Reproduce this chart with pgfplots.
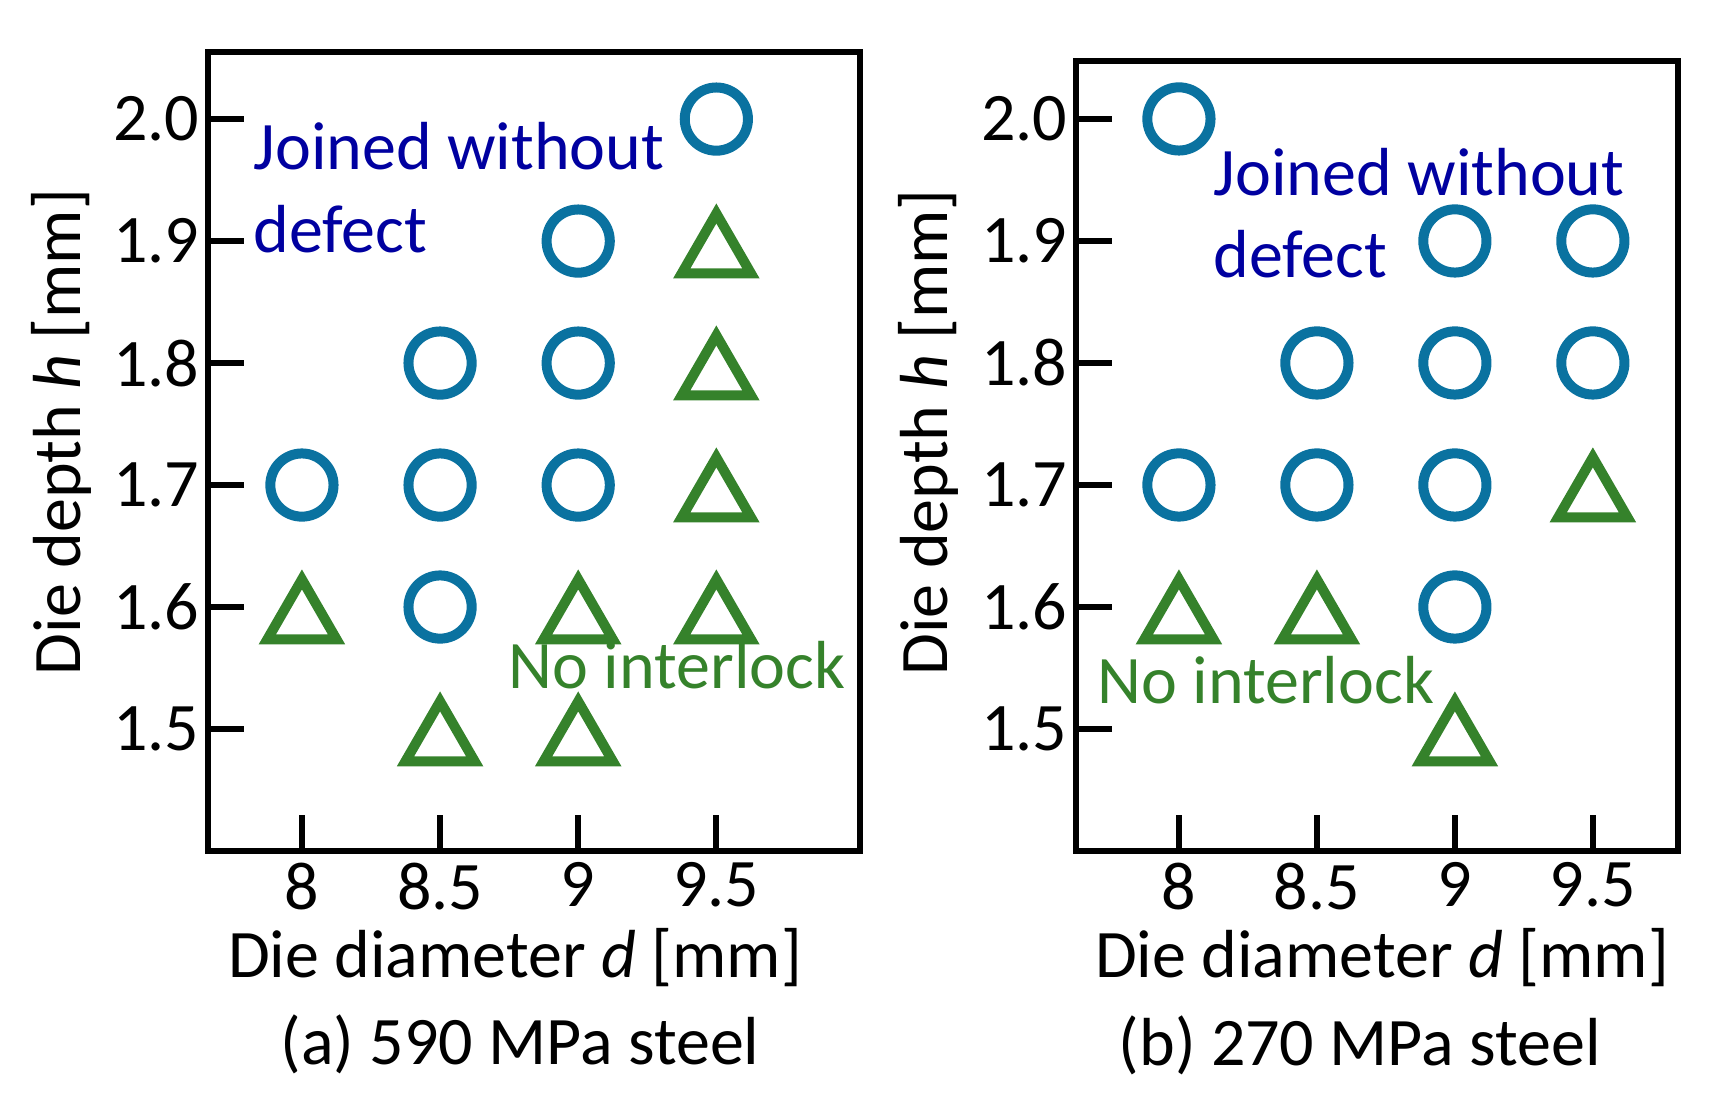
\documentclass[border=0pt]{standalone}
\usepackage{fontspec}
\setmainfont{Carlito}
\usepackage{pgfplots}
\pgfplotsset{compat=1.18}
\definecolor{cblue}{HTML}{0A72A0}
\definecolor{cgreen}{HTML}{35822B}
\definecolor{tblue}{HTML}{0000A0}
\newcommand{\ft}{\fontsize{17}{20.4}\selectfont}
\pgfplotsset{
  myaxis/.style={
    scale only axis,
    anchor=south west,
    clip=false,
    axis line style={line width=1.5pt},
    tick style={line width=1.5pt, black},
    tick align=inside,
    major tick length=9pt,
    xtick pos=bottom, ytick pos=left,
    xtick={8,8.5,9,9.5},
    ytick={1.5,1.6,1.7,1.8,1.9,2.0},
    ymin=1.4,
    /pgf/number format/assume math mode=true,
    yticklabel style={/pgf/number format/fixed,/pgf/number format/precision=1,/pgf/number format/fixed zerofill, inner sep=0pt},
    xticklabel style={inner sep=0pt},
    xticklabel shift=2.75pt,
    yticklabel shift=2pt,
    ticklabel style={font=\ft},
    label style={font=\ft},
  },
  circ/.style={only marks, mark=o, mark size=7.9pt, color=cblue, mark options={line width=2.5pt}},
  tri/.style={only marks, mark=triangle, mark size=10pt, color=cgreen, mark options={line width=2.5pt, yshift=-3.1pt}},
}
\begin{document}
\begin{tikzpicture}
\useasboundingbox (0,0) rectangle (430.5pt,-277.5pt);
% (a) 590 MPa steel
\begin{axis}[myaxis,
  at={(52pt,-212.75pt)}, width=163pt, height=199.75pt,
  xmin=7.66, xmax=10.02, ymax=2.055,
  xlabel={Die diameter \textit{d} [mm]},
  xlabel style={at={(axis description cs:0.471,-0.1577)}, anchor=base},
  ylabel={Die depth \textit{h} [mm]},
  ylabel style={at={(axis description cs:-0.2255,0.5244)}, anchor=center},
]
\addplot[circ] coordinates {(9.5,2.0) (9,1.9) (8.5,1.8) (9,1.8) (8,1.7) (8.5,1.7) (9,1.7) (8.5,1.6)};
\addplot[tri] coordinates {(9.5,1.9) (9.5,1.8) (9.5,1.7) (8,1.6) (9,1.6) (9.5,1.6) (8.5,1.5) (9,1.5)};
\node[anchor=base west, inner sep=0pt, text=tblue, font=\ft] at (axis cs:7.822,1.959) {Joined without};
\node[anchor=base west, inner sep=0pt, text=tblue, font=\ft] at (axis cs:7.822,1.891) {defect};
\node[anchor=base west, inner sep=0pt, text=cgreen, font=\ft] at (axis cs:8.746,1.5336) {No interlock};
\node[anchor=base, inner sep=0pt, font=\ft] at (axis description cs:0.4785,-0.2678) {(a) 590 MPa steel};
\end{axis}
% (b) 270 MPa steel
\begin{axis}[myaxis,
  at={(269pt,-212.75pt)}, width=150.6pt, height=197.5pt,
  xmin=7.627, xmax=9.81, ymax=2.0475,
  xlabel={Die diameter \textit{d} [mm]},
  xlabel style={at={(axis description cs:0.508,-0.1595)}, anchor=base},
  ylabel={Die depth \textit{h} [mm]},
  ylabel style={at={(axis description cs:-0.245,0.530)}, anchor=center},
]
\addplot[circ] coordinates {(8,2.0) (9,1.9) (9.5,1.9) (8.5,1.8) (9,1.8) (9.5,1.8) (8,1.7) (8.5,1.7) (9,1.7) (9,1.6)};
\addplot[tri] coordinates {(9.5,1.7) (8,1.6) (8.5,1.6) (9,1.5)};
\node[anchor=base west, inner sep=0pt, text=tblue, font=\ft] at (axis cs:8.123,1.937) {Joined without};
\node[anchor=base west, inner sep=0pt, text=tblue, font=\ft] at (axis cs:8.123,1.870) {defect};
\node[anchor=base west, inner sep=0pt, text=cgreen, font=\ft] at (axis cs:7.702,1.5205) {No interlock};
\node[anchor=base, inner sep=0pt, font=\ft] at (axis description cs:0.471,-0.2709) {(b) 270 MPa steel};
\end{axis}
\end{tikzpicture}
\end{document}
